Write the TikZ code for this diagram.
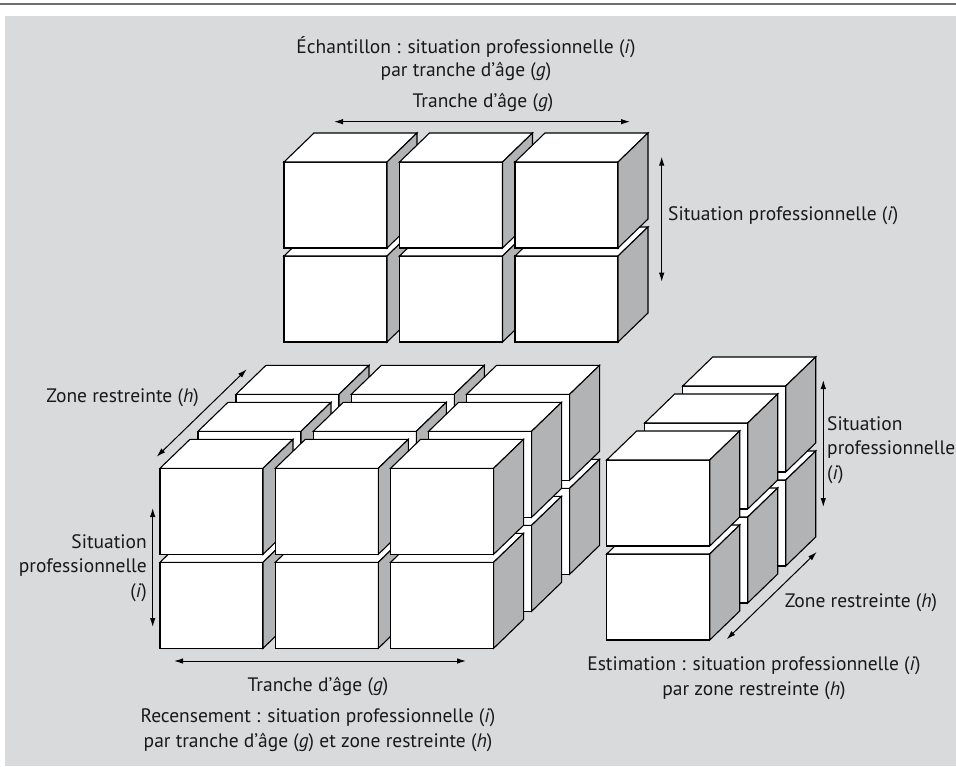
\documentclass[tikz,border=0pt]{standalone}
\usepackage{fontspec}
\setmainfont{PT Sans}
\usetikzlibrary{arrows.meta}
\definecolor{bg}{RGB}{217,218,220}
\definecolor{side}{RGB}{178,179,181}
\definecolor{rulecol}{RGB}{110,110,110}
\begin{document}
\begin{tikzpicture}[x=1pt,y=-1pt,
  cubeline/.style={draw=black,line width=1.1pt,line join=miter},
  cubepic/.pic={
    \filldraw[cubeline,fill=white] (0,0) rectangle (103,86);
    \filldraw[cubeline,fill=white] (0,0) -- (30,-29) -- (133,-29) -- (103,0) -- cycle;
    \filldraw[cubeline,fill=side] (103,0) -- (133,-29) -- (133,57) -- (103,86) -- cycle;
  },
  lbl/.style={font=\fontsize{19.5}{24.5}\selectfont, inner sep=0pt, text=black!90},
  dimarrow/.style={line width=1pt,{Latex[length=9pt,width=5.5pt]}-{Latex[length=9pt,width=5.5pt]}}
]
\useasboundingbox (0,0) rectangle (956,766);
\fill[bg] (5,15.5) rectangle (956,766);
\coordinate (r1) at (0,3.5);
\coordinate (r2) at (956,3.5);
\draw[rulecol,line width=2pt] (r1) -- (r2);

% top group
\foreach \r in {1,0} {
  \foreach \c in {0,1,2} {
    \pic at ({284+115.5*\c},{162+94*\r}) {cubepic};
  }
}
% bottom-left group
\foreach \k in {2,1,0} {
  \foreach \r in {1,0} {
    \foreach \c in {0,1,2} {
      \pic at ({160+115.3*\c+38*\k},{468.3+94*\r-37*\k}) {cubepic};
    }
  }
}
% right group
\foreach \k in {2,1,0} {
  \foreach \r in {1,0} {
    \pic at ({606.7+38*\k},{460+94*\r-37*\k}) {cubepic};
  }
}

% titles and labels
\node[lbl] (title1) at (466,47) {Échantillon : situation professionnelle (\textit{i})};
\node[lbl] (title2) at (466,72) {par tranche d’âge (\textit{g})};

\node[lbl] (tg1) at (483,103) {Tranche d’âge (\textit{g})};
\coordinate (tg1a) at (334,121.7);
\coordinate (tg1b) at (630,121.7);
\draw[dimarrow] (tg1a) -- (tg1b);

\coordinate (sp1a) at (661.7,156.7);
\coordinate (sp1b) at (661.7,281.7);
\draw[dimarrow] (sp1a) -- (sp1b);
\node[lbl,anchor=west] (sp1) at (668,216) {Situation professionnelle (\textit{i})};

\node[lbl,anchor=east] (zr1) at (199,398) {Zone restreinte (\textit{h})};
\coordinate (zr1a) at (156.7,456.7);
\coordinate (zr1b) at (246.7,369.3);
\draw[dimarrow] (zr1a) -- (zr1b);

\coordinate (sp2a) at (152.7,508);
\coordinate (sp2b) at (152.7,627);
\draw[dimarrow] (sp2a) -- (sp2b);
\node[lbl,anchor=east,align=right] (sp2) at (147,568) {Situation\\professionnelle\\(\textit{i})};

\coordinate (tg2a) at (174,661);
\coordinate (tg2b) at (466,661);
\draw[dimarrow] (tg2a) -- (tg2b);
\node[lbl] (tg2) at (318,686) {Tranche d’âge (\textit{g})};

\node[lbl,align=center] (cap1) at (318,730) {Recensement : situation professionnelle (\textit{i})\\par tranche d’âge (\textit{g}) et zone restreinte (\textit{h})};

\coordinate (sp3a) at (823.3,380);
\coordinate (sp3b) at (823.3,507);
\draw[dimarrow] (sp3a) -- (sp3b);
\node[lbl,anchor=west,align=left] (sp3) at (827,450) {Situation\\professionnelle\\(\textit{i})};

\coordinate (zr2a) at (726.7,639.3);
\coordinate (zr2b) at (816.7,552);
\draw[dimarrow] (zr2a) -- (zr2b);
\node[lbl] (zr2) at (861,603) {Zone restreinte (\textit{h})};

\node[lbl,align=center] (cap2) at (754,678) {Estimation : situation professionnelle (\textit{i})\\par zone restreinte (\textit{h})};
\end{tikzpicture}
\end{document}
